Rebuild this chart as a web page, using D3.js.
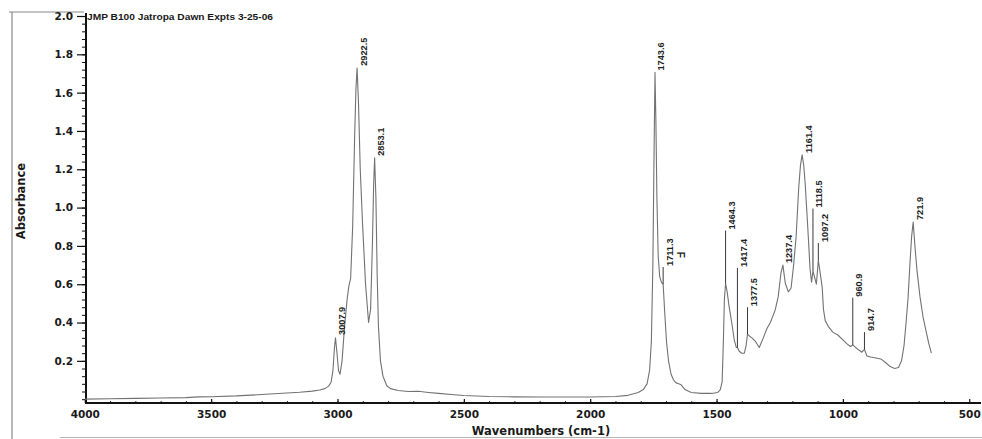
<!DOCTYPE html>
<html>
<head>
<meta charset="utf-8">
<script src="https://cdn.jsdelivr.net/npm/d3@7"></script>
<style>
  html, body { margin: 0; padding: 0; background: #ffffff; }
  svg { display: block; }
</style>
</head>
<body>
<svg id="chart" width="982" height="439"></svg>
<script>
// IR absorbance spectrum (wavenumbers in cm-1, descending)
const wavenumbers = [
  4000, 3900, 3800, 3700, 3600, 3550, 3500, 3400, 3300, 3200, 3150, 3100, 3070, 3050, 3035, 3025, 3018, 3012,
  3007.9, 3002, 2996, 2990, 2982, 2972, 2962, 2955, 2948, 2940, 2932, 2927, 2922.5, 2917, 2910, 2901, 2889,
  2877, 2869, 2862, 2857, 2853.1, 2848, 2843, 2838, 2830, 2820, 2805, 2790, 2760, 2720, 2680, 2640, 2600,
  2550, 2500, 2400, 2300, 2200, 2100, 2000, 1900, 1850, 1810, 1790, 1775, 1765, 1758, 1752, 1748, 1743.6,
  1740, 1736, 1731, 1725, 1718, 1711.3, 1705, 1698, 1690, 1680, 1670, 1660, 1650, 1640, 1625, 1600, 1560,
  1520, 1495, 1485, 1478, 1473, 1469, 1464.3, 1458, 1450, 1440, 1430, 1422, 1417.4, 1410, 1400, 1390, 1383,
  1377.5, 1370, 1360, 1345, 1331, 1315, 1300, 1287, 1268, 1256, 1245, 1237.4, 1228, 1216, 1205, 1195, 1185,
  1175, 1168, 1161.4, 1155, 1149, 1140, 1130, 1124, 1118.5, 1111, 1105, 1097.2, 1090, 1082, 1077, 1070, 1058,
  1040, 1020, 1000, 985, 970, 960.9, 950, 935, 925, 914.7, 905, 890, 870, 850, 830, 813, 795, 780, 768, 758,
  750, 742, 735, 728, 721.9, 715, 707, 695, 683, 670, 660, 650
];
const absorbance = [
  0.000, 0.002, 0.004, 0.006, 0.008, 0.012, 0.013, 0.017, 0.024, 0.032, 0.036, 0.042, 0.048, 0.055, 0.068, 0.090, 0.150, 0.270,
  0.320, 0.240, 0.150, 0.130, 0.200, 0.380, 0.520, 0.590, 0.630, 0.900, 1.380, 1.620, 1.728, 1.550, 1.200, 0.920, 0.600,
  0.400, 0.470, 0.800, 1.120, 1.260, 1.050, 0.650, 0.380, 0.200, 0.120, 0.070, 0.055, 0.045, 0.040, 0.041, 0.035, 0.030,
  0.024, 0.019, 0.014, 0.012, 0.011, 0.011, 0.011, 0.014, 0.020, 0.035, 0.050, 0.080, 0.150, 0.300, 0.700, 1.200, 1.706,
  1.450, 1.050, 0.750, 0.640, 0.610, 0.600, 0.450, 0.300, 0.200, 0.130, 0.100, 0.085, 0.080, 0.075, 0.050, 0.035, 0.030,
  0.030, 0.035, 0.050, 0.090, 0.300, 0.520, 0.605, 0.560, 0.480, 0.400, 0.310, 0.270, 0.270, 0.250, 0.240, 0.240, 0.280,
  0.340, 0.330, 0.320, 0.300, 0.270, 0.320, 0.370, 0.400, 0.465, 0.535, 0.660, 0.700, 0.605, 0.560, 0.580, 0.700, 0.850,
  1.100, 1.220, 1.275, 1.220, 1.120, 0.920, 0.680, 0.610, 0.670, 0.630, 0.600, 0.725, 0.660, 0.585, 0.470, 0.410, 0.380,
  0.350, 0.335, 0.310, 0.290, 0.275, 0.283, 0.270, 0.255, 0.245, 0.260, 0.225, 0.220, 0.215, 0.210, 0.190, 0.170, 0.160, 0.165, 0.200, 0.280,
  0.400, 0.530, 0.700, 0.850, 0.925, 0.800, 0.675, 0.535, 0.430, 0.350, 0.290, 0.240
];

// Peak picks: label text (wavenumber) and the absorbance level where each label starts
const peakLabels = ["3007.9", "2922.5", "2853.1", "1743.6", "1711.3", "1464.3", "1417.4", "1377.5",
                    "1237.4", "1161.4", "1118.5", "1097.2", "960.9", "914.7", "721.9"];
const peakLabelLevels = [0.33, 1.735, 1.265, 1.71, 0.69, 0.88, 0.685, 0.48,
                         0.705, 1.28, 0.995, 0.815, 0.53, 0.35, 0.93];

// Axis ticks
const xTickValues = [4000, 3500, 3000, 2500, 2000, 1500, 1000, 500];
const yTickValues = [0.2, 0.4, 0.6, 0.8, 1.0, 1.2, 1.4, 1.6, 1.8, 2.0];

const titleText = "JMP B100 Jatropa Dawn Expts 3-25-06";
const xTitle = "Wavenumbers (cm-1)";
const yTitle = "Absorbance";

const svg = d3.select("#chart");
svg.append("rect").attr("width", 982).attr("height", 439).attr("fill", "#ffffff");

const x = d3.scaleLinear().domain([4000, 453.5]).range([84.8, 981]);
const y = d3.scaleLinear().domain([-0.02, 2.0]).range([403, 16]);
const axisX = 86, axisY = 403;

// page frame lines
const frame = svg.append("g").attr("stroke", "#8a8a8a").attr("stroke-width", 1.2);
frame.append("line").attr("x1", 12).attr("x2", 12).attr("y1", 12).attr("y2", 439);
frame.append("line").attr("x1", 9).attr("x2", 84).attr("y1", 12).attr("y2", 12);
frame.append("line").attr("x1", 60).attr("x2", 982).attr("y1", 437.5).attr("y2", 437.5).attr("stroke", "#b5b5b5");

// y axis: minor and major ticks pointing outward
const yMinor = svg.append("g").attr("transform", `translate(${axisX},0)`)
  .call(d3.axisLeft(y).tickValues(d3.range(0, 2.001, 0.04)).tickSize(4).tickSizeOuter(0).tickFormat(""));
yMinor.select(".domain").remove();
yMinor.selectAll("line").attr("stroke", "#111").attr("stroke-width", 1);

const yMajor = svg.append("g").attr("transform", `translate(${axisX},0)`)
  .call(d3.axisLeft(y).tickValues(yTickValues).tickSize(9).tickSizeOuter(0).tickPadding(4)
    .tickFormat(d3.format(".1f")));
yMajor.select(".domain").remove();
yMajor.selectAll("line").attr("stroke", "#111").attr("stroke-width", 1.2);
yMajor.selectAll("text")
  .attr("font-family", "DejaVu Sans, Liberation Sans, sans-serif")
  .attr("font-weight", "bold").attr("font-size", 10.5).attr("fill", "#1a1a1a");

// x axis: ticks pointing inward
const xMinor = svg.append("g").attr("transform", `translate(0,${axisY})`)
  .call(d3.axisBottom(x).tickValues(d3.range(600, 4000, 100)).tickSize(-2).tickSizeOuter(0).tickFormat(""));
xMinor.select(".domain").remove();
xMinor.selectAll("line").attr("stroke", "#333").attr("stroke-width", 1);

const xMajor = svg.append("g").attr("transform", `translate(0,${axisY})`)
  .call(d3.axisBottom(x).tickValues(xTickValues).tickSize(-4).tickSizeOuter(0).tickPadding(7.5)
    .tickFormat(d3.format("d")));
xMajor.select(".domain").remove();
xMajor.selectAll("line").attr("stroke", "#111").attr("stroke-width", 1.2);
xMajor.selectAll("text")
  .attr("font-family", "DejaVu Sans, Liberation Sans, sans-serif")
  .attr("font-weight", "bold").attr("font-size", 10.5).attr("fill", "#1a1a1a");

// axis lines
svg.append("line").attr("x1", axisX).attr("x2", axisX).attr("y1", 13).attr("y2", axisY + 1)
  .attr("stroke", "#111").attr("stroke-width", 2);
svg.append("line").attr("x1", axisX - 1).attr("x2", 981).attr("y1", axisY).attr("y2", axisY)
  .attr("stroke", "#111").attr("stroke-width", 2);

// spectrum trace
const spectrum = wavenumbers.map((w, i) => ({ w, a: absorbance[i] }));
svg.append("path")
  .datum(spectrum)
  .attr("fill", "none")
  .attr("stroke", "#727272")
  .attr("stroke-width", 1.1)
  .attr("stroke-linejoin", "round")
  .attr("d", d3.line().x(d => x(d.w)).y(d => y(d.a)));

// absorbance of the trace at a given wavenumber
function traceAt(w) {
  const i = wavenumbers.indexOf(w);
  if (i >= 0) return absorbance[i];
  const asc = spectrum.slice().reverse();
  const j = d3.bisector(d => d.w).left(asc, w);
  const p0 = asc[Math.max(0, j - 1)], p1 = asc[Math.min(asc.length - 1, j)];
  if (p1.w === p0.w) return p0.a;
  return p0.a + (p1.a - p0.a) * (w - p0.w) / (p1.w - p0.w);
}

// peak pick markers and labels
const peaks = peakLabels.map((t, i) => ({ t, w: +t, level: peakLabelLevels[i] }));
const pk = svg.append("g");
pk.selectAll("line.pick")
  .data(peaks.filter(d => d.level > traceAt(d.w) + 0.01))
  .join("line").attr("class", "pick")
  .attr("x1", d => x(d.w)).attr("x2", d => x(d.w))
  .attr("y1", d => y(traceAt(d.w))).attr("y2", d => y(d.level))
  .attr("stroke", "#3a3a3a").attr("stroke-width", 1);
pk.selectAll("text.pick")
  .data(peaks)
  .join("text").attr("class", "pick")
  .attr("transform", d => `translate(${x(d.w) + 9.5},${y(d.level) - 1}) rotate(-90)`)
  .attr("font-family", "Liberation Sans, Arial, sans-serif")
  .attr("font-weight", "bold").attr("font-size", 9.2).attr("fill", "#1e1e1e")
  .text(d => d.t);

// small hand mark beside the 1711.3 pick
svg.append("text")
  .attr("transform", `translate(${x(1711.3) + 14},${y(0.77)}) rotate(90)`)
  .attr("font-family", "Liberation Sans, Arial, sans-serif")
  .attr("font-weight", "bold").attr("font-size", 10).attr("fill", "#222")
  .text("F");

// titles
svg.append("text")
  .attr("x", 87).attr("y", 19.5)
  .attr("font-family", "Liberation Sans, Arial, sans-serif")
  .attr("font-weight", "bold").attr("font-size", 9).attr("fill", "#1a1a1a")
  .attr("textLength", 186).attr("lengthAdjust", "spacingAndGlyphs")
  .text(titleText);

svg.append("text")
  .attr("x", 541).attr("y", 435)
  .attr("text-anchor", "middle")
  .attr("font-family", "DejaVu Sans, Liberation Sans, sans-serif")
  .attr("font-weight", "bold").attr("font-size", 11.5).attr("fill", "#1a1a1a")
  .text(xTitle);

svg.append("text")
  .attr("transform", "translate(25,201) rotate(-90)")
  .attr("text-anchor", "middle")
  .attr("font-family", "DejaVu Sans, Liberation Sans, sans-serif")
  .attr("font-weight", "bold").attr("font-size", 11.5).attr("fill", "#1a1a1a")
  .text(yTitle);
</script>
</body>
</html>
